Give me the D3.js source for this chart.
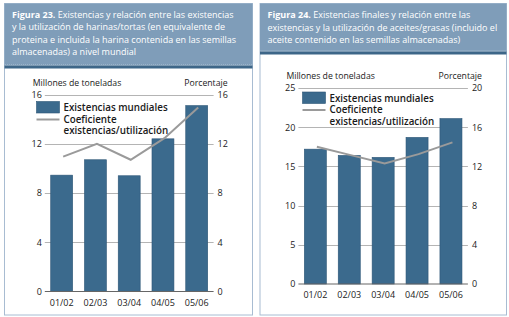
<!DOCTYPE html>
<html>
<head>
<meta charset="utf-8">
<script src="https://cdn.jsdelivr.net/npm/d3@7"></script>
<style>
  body { margin: 0; background: #fff; }
  svg { display: block; font-family: "Open Sans", "Noto Sans", sans-serif; }
</style>
</head>
<body>
<div id="chart"></div>
<script>
// Data
const seasons = ["01/02", "02/03", "03/04", "04/05", "05/06"];

// Figura 23 - harinas/tortas
const mealStocks = [9.45, 10.7, 9.4, 12.4, 15.1];
const mealRatio = [10.95, 12.0, 10.7, 12.45, 14.95];
const mealLeftTicks = [0, 4, 8, 12, 16];
const mealRightTicks = [0, 4, 8, 12, 16];
const mealTitle = [
  ["Figura 23.", " Existencias y relación entre las existencias"],
  ["", "y la utilización de harinas/tortas (en equivalente de"],
  ["", "proteina e incluida la harina contenida en las semillas"],
  ["", "almacenadas) a nivel mundial"]
];

// Figura 24 - aceites/grasas
const oilStocks = [17.2, 16.4, 16.15, 18.7, 21.1];
const oilRatio = [14.0, 13.15, 12.3, 13.25, 14.45];
const oilLeftTicks = [0, 5, 10, 15, 20, 25];
const oilRightTicks = [0, 4, 8, 12, 16, 20];
const oilTitle = [
  ["Figura 24.", " Existencias finales y relación entre las"],
  ["", "existencias y la utilización de aceites/grasas (incluido el"],
  ["", "aceite contenido en las semillas almacenadas)"]
];

const legendLabels = ["Existencias mundiales", "Coeficiente", "existencias/utilización"];

const W = 509, H = 317;
const barColor = "#3b6a8d";
const lineColor = "#9a9a9a";

let svg = d3.select("#chart")
  .append("svg")
  .attr("width", W)
  .attr("height", H);

function drawPanel(p) {
  let g = svg.append("g");

  // panel frame
  g.append("rect")
    .attr("x", p.left + 0.5).attr("y", 3.5)
    .attr("width", p.right - p.left).attr("height", 311.5)
    .attr("fill", "#fff")
    .attr("stroke", "#a8bcd2");

  // header
  g.append("rect")
    .attr("x", p.left + 0.5).attr("y", 3.5)
    .attr("width", p.right - p.left).attr("height", p.headerBottom - 3.5)
    .attr("fill", "#7f9db9");
  g.append("line")
    .attr("x1", p.left + 1).attr("x2", p.right)
    .attr("y1", p.headerBottom - 0.5).attr("y2", p.headerBottom - 0.5)
    .attr("stroke", "#b7c8da")
    .attr("stroke-dasharray", "1,1");
  g.append("rect")
    .attr("x", p.left + 0.5).attr("y", p.headerBottom)
    .attr("width", p.right - p.left).attr("height", 3)
    .attr("fill", "#3d6688");

  let title = g.append("text")
    .attr("fill", "#fff")
    .style("font-size", "9px");
  p.title.forEach((ln, i) => {
    let t = title.append("tspan")
      .attr("x", p.left + 8)
      .attr("y", p.titleY + i * 12.6);
    if (ln[0]) t.append("tspan").style("font-weight", "bold").text(ln[0]);
    t.append("tspan").text(ln[1]);
  });

  // scales
  let x = d3.scaleBand()
    .domain(seasons)
    .range(p.xRange)
    .paddingInner(0.35)
    .paddingOuter(0.175);

  let yL = d3.scaleLinear()
    .domain([0, d3.max(p.leftTicks)])
    .range(p.yRange);

  let yR = d3.scaleLinear()
    .domain([0, d3.max(p.rightTicks)])
    .range(p.yRange);

  // gridlines
  g.append("g")
    .selectAll("line")
    .data(p.leftTicks.slice(1))
    .enter()
    .append("line")
    .attr("x1", p.xRange[0]).attr("x2", p.xRange[1])
    .attr("y1", d => Math.round(yL(d)) + 0.5)
    .attr("y2", d => Math.round(yL(d)) + 0.5)
    .attr("stroke", "#b4b4b4")
    .attr("stroke-width", 1);

  // left axis labels
  g.append("g")
    .selectAll("text")
    .data(p.leftTicks)
    .enter()
    .append("text")
    .attr("x", p.xRange[0] - 3)
    .attr("y", d => yL(d) + 3.3)
    .attr("text-anchor", "end")
    .style("font-size", "9px")
    .attr("fill", "#222")
    .text(d => d);

  // right axis labels
  g.append("g")
    .selectAll("text")
    .data(p.rightTicks)
    .enter()
    .append("text")
    .attr("x", p.xRange[1] + 4)
    .attr("y", d => yR(d) + 3.3)
    .attr("text-anchor", "start")
    .style("font-size", "9px")
    .attr("fill", "#222")
    .text(d => d);

  // axis titles
  g.append("text")
    .attr("x", p.xRange[0] - 12)
    .attr("y", p.yRange[1] - 9)
    .style("font-size", "8.7px")
    .attr("fill", "#222")
    .text("Millones de toneladas");
  g.append("text")
    .attr("x", p.xRange[1] + 14)
    .attr("y", p.yRange[1] - 9)
    .attr("text-anchor", "end")
    .style("font-size", "8.7px")
    .attr("fill", "#222")
    .text("Porcentaje");

  // bars
  g.append("g")
    .selectAll("rect")
    .data(p.stocks)
    .enter()
    .append("rect")
    .attr("x", (d, i) => x(seasons[i]))
    .attr("y", d => yL(d))
    .attr("width", x.bandwidth())
    .attr("height", d => yL(0) - yL(d))
    .attr("fill", barColor)
    .attr("stroke", "#2c5576")
    .attr("stroke-width", 0.6);

  // bottom axis line
  g.append("line")
    .attr("x1", p.xRange[0]).attr("x2", p.xRange[1])
    .attr("y1", yL(0)).attr("y2", yL(0))
    .attr("stroke", "#666")
    .attr("stroke-width", 1.2);

  // x labels
  g.append("g")
    .selectAll("text")
    .data(seasons)
    .enter()
    .append("text")
    .attr("x", d => x(d) + x.bandwidth() / 2)
    .attr("y", yL(0) + 14)
    .attr("text-anchor", "middle")
    .style("font-size", "9px")
    .attr("fill", "#222")
    .text(d => d);

  // ratio line
  let line = d3.line()
    .x((d, i) => x(seasons[i]) + x.bandwidth() / 2 + 1.5)
    .y(d => yR(d));

  g.append("path")
    .datum(p.ratio)
    .attr("d", line)
    .attr("fill", "none")
    .attr("stroke", lineColor)
    .attr("stroke-width", 2);

  // legend
  let lx = p.legendX, ly = p.legendY;
  g.append("rect")
    .attr("x", lx).attr("y", ly)
    .attr("width", 23).attr("height", 11.5)
    .attr("fill", barColor)
    .attr("stroke", "#2c5576")
    .attr("stroke-width", 0.6);
  g.append("line")
    .attr("x1", lx).attr("x2", lx + 23)
    .attr("y1", ly + 18).attr("y2", ly + 18)
    .attr("stroke", lineColor)
    .attr("stroke-width", 2);
  g.append("g")
    .selectAll("text")
    .data(legendLabels)
    .enter()
    .append("text")
    .attr("x", lx + 27)
    .attr("y", (d, i) => ly + 9.5 + i * 11.7)
    .style("font-size", "9.8px")
    .style("font-weight", "600")
    .attr("fill", "#1a1a1a")
    .text(d => d);
}

drawPanel({
  left: 4, right: 252, headerBottom: 65.5, titleY: 17.5,
  title: mealTitle,
  xRange: [44.8, 213.6], yRange: [291.5, 94.5],
  leftTicks: mealLeftTicks, rightTicks: mealRightTicks,
  stocks: mealStocks, ratio: mealRatio,
  legendX: 36.5, legendY: 101.5
});

drawPanel({
  left: 259.5, right: 506, headerBottom: 51.5, titleY: 18,
  title: oilTitle,
  xRange: [298.4, 467.9], yRange: [284, 88],
  leftTicks: oilLeftTicks, rightTicks: oilRightTicks,
  stocks: oilStocks, ratio: oilRatio,
  legendX: 302.5, legendY: 92
});
</script>
</body>
</html>
